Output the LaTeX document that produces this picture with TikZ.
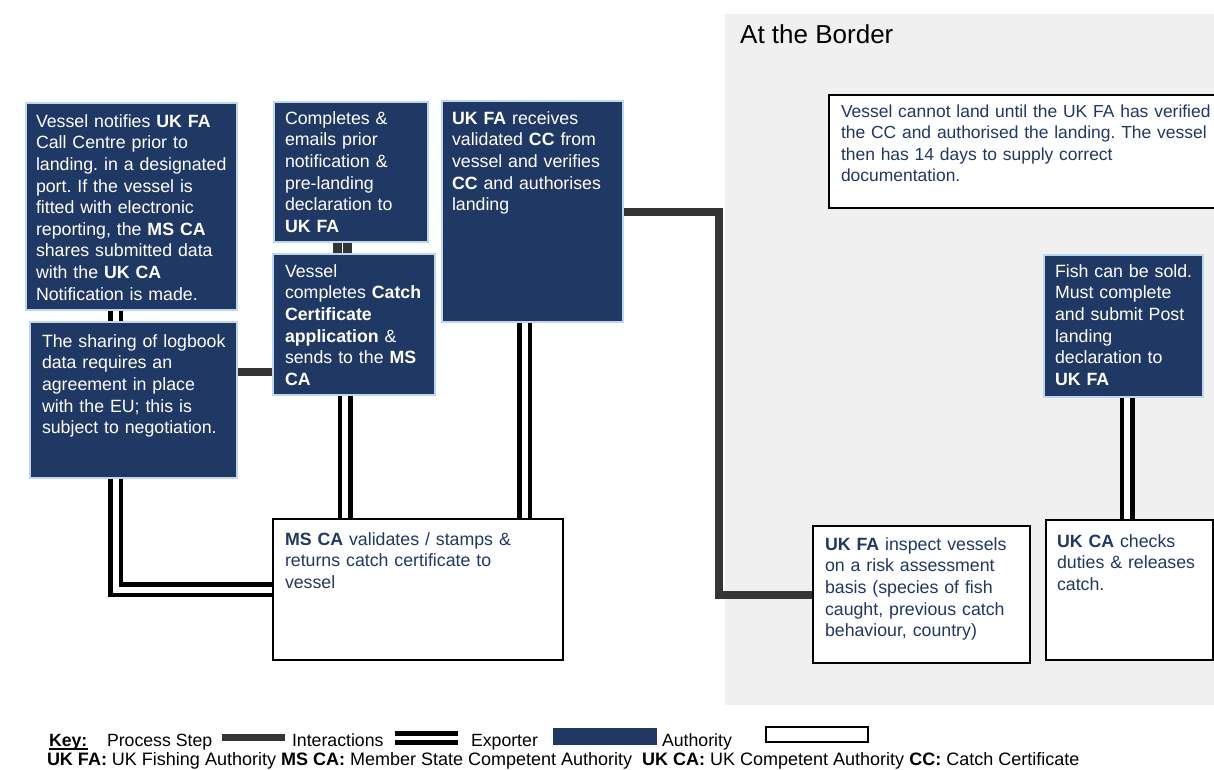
\documentclass[tikz,border=0pt]{standalone}
\usepackage{fontspec}
\setmainfont{Liberation Sans}
\frenchspacing
\pgfdeclarelayer{bglayer}
\pgfdeclarelayer{linelayer}
\pgfsetlayers{bglayer,linelayer,main}
\definecolor{navy}{HTML}{203864}
\definecolor{lblue}{HTML}{BDD7EE}
\definecolor{pgray}{HTML}{353535}
\definecolor{bggray}{HTML}{F0F0F0}
\tikzset{
  exporterbox/.style={rectangle, draw=lblue, line width=2.5pt, fill=navy, anchor=north west, inner sep=0pt, outer sep=0pt},
  authoritybox/.style={rectangle, draw=black, line width=2.5pt, fill=white, anchor=north west, inner sep=0pt, outer sep=0pt},
  boxtext/.style={anchor=north west, inner sep=0pt, outer sep=0pt, align=left, text width=420pt, font=\fontsize{17.75}{21.6}\selectfont},
  whitetext/.style={boxtext, text=white},
  navytext/.style={boxtext, text=navy},
  procline/.style={draw=pgray, line width=8pt},
  stubline/.style={draw=pgray, line width=8.5pt, double=white, double distance=1.5pt},
  expline/.style={draw=black, line width=4.5pt, double=white, double distance=6pt},
  keytext/.style={anchor=base west, inner sep=0pt, outer sep=0pt, font=\fontsize{17.7}{21}\selectfont},
}
\begin{document}
\begin{tikzpicture}[x=1pt,y=-1pt]
\useasboundingbox (0,0) rectangle (1214,769);
\begin{pgfonlayer}{bglayer}
  \fill[bggray] (725,14) rectangle (1214,705);
\end{pgfonlayer}
\node[anchor=base west, inner sep=0pt, font=\fontsize{26}{30}\selectfont] (border) at (740,43.5) {At the Border};

% boxes
\node[exporterbox, minimum width=211, minimum height=207] (A) at (26,103) {};
\node[exporterbox, minimum width=207, minimum height=156] (B) at (30,322) {};
\node[exporterbox, minimum width=154, minimum height=140] (C) at (274,102) {};
\node[exporterbox, minimum width=162, minimum height=141] (D) at (273,254) {};
\node[exporterbox, minimum width=181, minimum height=221] (E) at (442,101) {};
\node[authoritybox, minimum width=290, minimum height=141] (F) at (273,519) {};
\node[authoritybox, minimum width=392, minimum height=113] (G) at (829,95) {};
\node[exporterbox, minimum width=159, minimum height=142] (H) at (1044,255) {};
\node[authoritybox, minimum width=217, minimum height=137] (I) at (813,526) {};
\node[authoritybox, minimum width=167, minimum height=140] (J) at (1046,520) {};

% texts
\node[whitetext] (At) at (36,114.5) {Vessel notifies \textbf{UK FA}\\Call Centre prior to\\landing. in a designated\\port. If the vessel is\\fitted with electronic\\reporting, the \textbf{MS CA}\\shares submitted data\\with the \textbf{UK CA}\\Notification is made.};
\node[whitetext] (Bt) at (42,334.5) {The sharing of logbook\\data requires an\\agreement in place\\with the EU; this is\\subject to negotiation.};
\node[whitetext] (Ct) at (285,111.5) {Completes \&\\emails prior\\notification \&\\pre-landing\\declaration to\\\textbf{UK FA}};
\node[whitetext] (Dt) at (285,264.5) {Vessel\\completes \textbf{Catch}\\\textbf{Certificate}\\\textbf{application} \&\\sends to the \textbf{MS}\\\textbf{CA}};
\node[whitetext] (Et) at (452,111.5) {\textbf{UK FA} receives\\validated \textbf{CC} from\\vessel and verifies\\\textbf{CC} and authorises\\landing};
\node[navytext] (Ft) at (285,532.5) {\textbf{MS CA} validates / stamps \&\\returns catch certificate to\\vessel};
\node[navytext, font=\fontsize{17.45}{21.6}\selectfont] (Gt) at (841,104.5) {Vessel cannot land until the UK FA has verified\\the CC and authorised the landing. The vessel\\then has 14 days to supply correct\\documentation.};
\node[whitetext] (Ht) at (1055,264.5) {Fish can be sold.\\Must complete\\and submit Post\\landing\\declaration to\\\textbf{UK FA}};
\node[navytext] (It) at (825,537.5) {\textbf{UK FA} inspect vessels\\on a risk assessment\\basis (species of fish\\caught, previous catch\\behaviour, country)};
\node[navytext] (Jt) at (1057,534.5) {\textbf{UK CA} checks\\duties \& releases\\catch.};

% connectors
\begin{pgfonlayer}{linelayer}
  \coordinate (ab) at ([xshift=89.5pt]A.south west);
  \draw[expline] (ab) -- (ab |- B.north);
  \coordinate (bf) at ([xshift=85.5pt]B.south west);
  \draw[expline] (bf) |- (F.west);
  \coordinate (bd) at ([yshift=28pt]B.east);
  \draw[procline] (bd) -- (bd -| D.west);
  \coordinate (cd) at ([xshift=68.5pt]C.south west);
  \draw[stubline] (cd) -- (cd |- D.north);
  \coordinate (df) at ([xshift=72pt]D.south west);
  \draw[expline] (df) -- (df |- F.north);
  \coordinate (ef) at ([xshift=82.5pt]E.south west);
  \draw[expline] (ef) -- (ef |- F.north);
  \draw[procline] (E.east) -- ++(95.5,0) |- (I.west);
  \coordinate (hj) at ([xshift=83pt]H.south west);
  \draw[expline] (hj) -- (hj |- J.north);
\end{pgfonlayer}

% key
\node[keytext] (k0) at (49,746) {\textbf{Key:}};
\fill[black] (49,748) rectangle (87.5,749.5);
\node[keytext] (k1) at (107,746) {Process Step};
\fill[pgray] (222,734) rectangle (285,741);
\node[keytext] (k2) at (292,746) {Interactions};
\fill[black] (395,731) rectangle (458,736);
\fill[black] (395,740) rectangle (458,745);
\node[keytext] (k3) at (471,746) {Exporter};
\fill[navy] (553,728) rectangle (657,745);
\node[keytext] (k4) at (662,746) {Authority};
\draw[black, line width=2pt] (766,727) rectangle (868,742);
\node[keytext, font=\fontsize{18}{21}\selectfont] (k5) at (47,765) {\textbf{UK FA:} UK Fishing Authority \textbf{MS CA:} Member State Competent Authority\ \ \textbf{UK CA:} UK Competent Authority \textbf{CC:} Catch Certificate};
\end{tikzpicture}
\end{document}
